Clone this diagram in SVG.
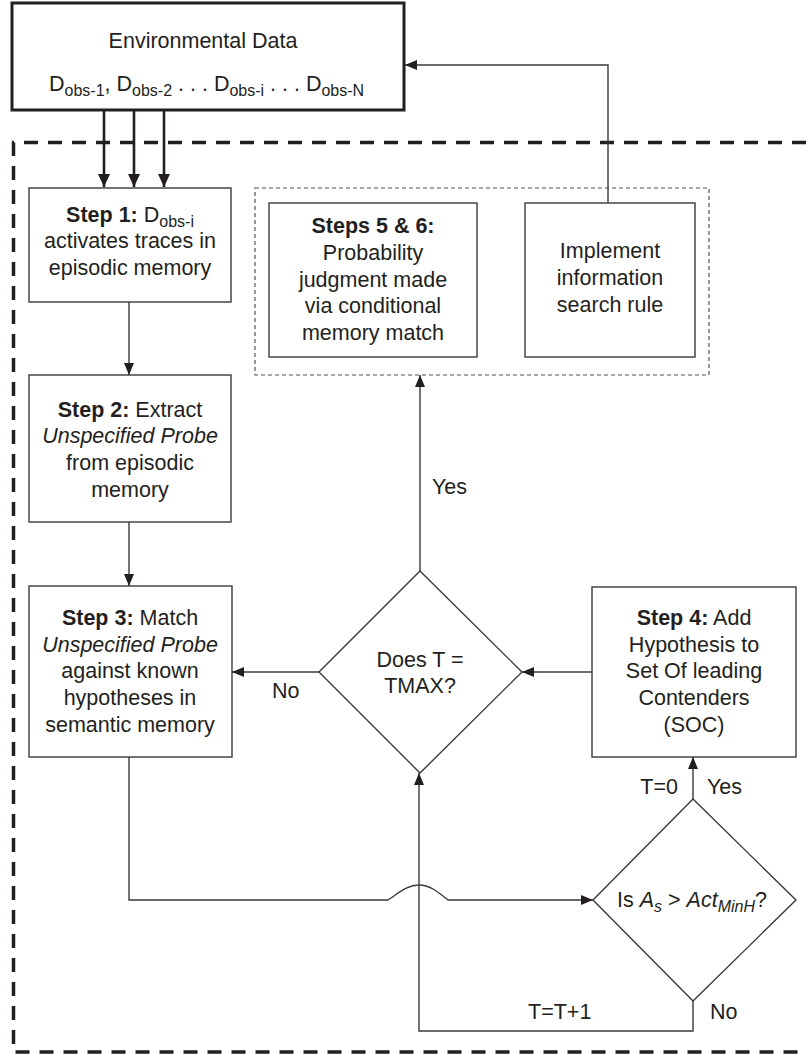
<svg xmlns="http://www.w3.org/2000/svg" width="807" height="1055" viewBox="0 0 807 1055">
<style>
text{font-family:"Liberation Sans",Arial,sans-serif;font-size:21.5px;fill:#231f20}
.c{text-anchor:middle}
.b{font-weight:bold}
.i{font-style:italic}
.sub{font-size:16px}
.box{fill:#fff;stroke:#3a3a3a;stroke-width:1.4}
.ln{fill:none;stroke:#3a3a3a;stroke-width:1.4}
.thick{fill:none;stroke:#231f20;stroke-width:2.6}
</style>
<defs>
<marker id="ah" markerUnits="userSpaceOnUse" markerWidth="14" markerHeight="12" refX="12" refY="5" orient="auto"><path d="M0,0 L12,5 L0,10 z" fill="#231f20"/></marker>
<marker id="ahb" markerUnits="userSpaceOnUse" markerWidth="16" markerHeight="14" refX="13" refY="6" orient="auto"><path d="M0,0 L13,6 L0,12 z" fill="#231f20"/></marker>
</defs>
<g id="outer-frame">
<path d="M830 142.5 H13.5 V1052 H830" fill="none" stroke="#231f20" stroke-width="3.5" stroke-dasharray="14 10"/>
</g>
<g id="group-5-6">
<rect x="255" y="188" width="454" height="187" fill="none" stroke="#555" stroke-width="1.2" stroke-dasharray="4 3"/>
</g>
<g id="env">
<rect x="12" y="3" width="392" height="107" fill="#fff" stroke="#231f20" stroke-width="3"/>
<text class="c" x="203" y="48">Environmental Data</text>
<text x="49" y="91">D<tspan class="sub" dy="5">obs-1</tspan><tspan dy="-5">, D</tspan><tspan class="sub" dy="5">obs-2</tspan><tspan dy="-5"> . . . D</tspan><tspan class="sub" dy="5">obs-i</tspan><tspan dy="-5"> . . . D</tspan><tspan class="sub" dy="5">obs-N</tspan></text>
</g>
<g id="connectors">
<path class="thick" d="M104 110 V187" marker-end="url(#ahb)"/>
<path class="thick" d="M134 110 V187" marker-end="url(#ahb)"/>
<path class="thick" d="M164 110 V187" marker-end="url(#ahb)"/>
<path class="ln" d="M129 302 V375" marker-end="url(#ah)"/>
<path class="ln" d="M129 522 V586" marker-end="url(#ah)"/>
<path class="ln" d="M129 757 V900 H388 C400 892 408 885 419 885 C430 885 438 892 448 900 H593" marker-end="url(#ah)"/>
<path class="ln" d="M319 672 H232" marker-end="url(#ah)"/>
<path class="ln" d="M592 672 H522" marker-end="url(#ah)"/>
<path class="ln" d="M420 571 V375" marker-end="url(#ah)"/>
<path class="ln" d="M693 799 V757" marker-end="url(#ah)"/>
<path class="ln" d="M693 1001 V1031 H419 V773" marker-end="url(#ah)"/>
<path class="ln" d="M608 203 V65 H405" marker-end="url(#ah)"/>
</g>
<g id="step1">
<rect class="box" x="29" y="188" width="202" height="114"/>
<text class="c" x="130" y="222"><tspan class="b">Step 1:</tspan> D<tspan class="sub" dy="5">obs-i</tspan></text>
<text class="c" x="130" y="248">activates traces in</text>
<text class="c" x="130" y="275">episodic memory</text>
</g>
<g id="step2">
<rect class="box" x="29" y="375" width="202" height="147"/>
<text class="c" x="130" y="417"><tspan class="b">Step 2:</tspan> Extract</text>
<text class="c i" x="130" y="443">Unspecified Probe</text>
<text class="c" x="130" y="470">from episodic</text>
<text class="c" x="130" y="497">memory</text>
</g>
<g id="step3">
<rect class="box" x="29" y="586" width="203" height="171"/>
<text class="c" x="130" y="625"><tspan class="b">Step 3:</tspan> Match</text>
<text class="c i" x="130" y="652">Unspecified Probe</text>
<text class="c" x="130" y="678">against known</text>
<text class="c" x="130" y="705">hypotheses in</text>
<text class="c" x="130" y="732">semantic memory</text>
</g>
<g id="steps56">
<rect class="box" x="269" y="203" width="208" height="154"/>
<text class="c b" x="373" y="233">Steps 5 &amp; 6:</text>
<text class="c" x="373" y="260">Probability</text>
<text class="c" x="373" y="287">judgment made</text>
<text class="c" x="373" y="313">via conditional</text>
<text class="c" x="373" y="340">memory match</text>
</g>
<g id="implement">
<rect class="box" x="525" y="203" width="170" height="154"/>
<text class="c" x="610" y="258">Implement</text>
<text class="c" x="610" y="285">information</text>
<text class="c" x="610" y="312">search rule</text>
</g>
<g id="step4">
<rect class="box" x="592" y="587" width="204" height="170"/>
<text class="c" x="694" y="625"><tspan class="b">Step 4:</tspan> Add</text>
<text class="c" x="694" y="652">Hypothesis to</text>
<text class="c" x="694" y="678">Set Of leading</text>
<text class="c" x="694" y="705">Contenders</text>
<text class="c" x="694" y="732">(SOC)</text>
</g>
<g id="decision-tmax">
<path class="box" d="M420 571 L522 672 L420 773 L319 672 Z"/>
<text class="c" x="420" y="667">Does T =</text>
<text class="c" x="420" y="693">TMAX?</text>
</g>
<g id="decision-act">
<path class="box" d="M693 799 L796 900 L693 1001 L593 900 Z"/>
<text x="617" y="907">Is <tspan class="i">A</tspan><tspan class="i sub" dy="5">s</tspan><tspan dy="-5"> &gt; </tspan><tspan class="i">Act</tspan><tspan class="i sub" dy="5">MinH</tspan><tspan dy="-5">?</tspan></text>
</g>
<g id="labels">
<text x="432" y="494">Yes</text>
<text x="272" y="698">No</text>
<text x="678" y="794" text-anchor="end">T=0</text>
<text x="707" y="794">Yes</text>
<text x="528" y="1019">T=T+1</text>
<text x="710" y="1019">No</text>
</g>
</svg>
